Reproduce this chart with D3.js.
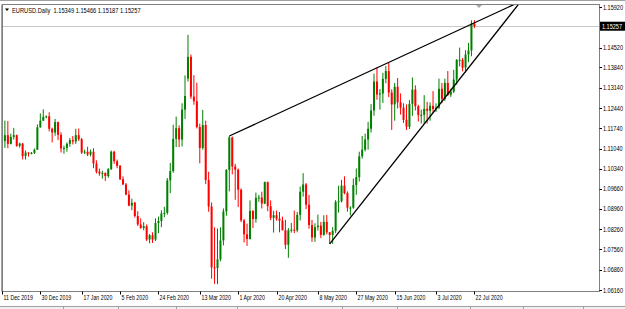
<!DOCTYPE html>
<html>
<head>
<meta charset="utf-8">
<script src="https://cdnjs.cloudflare.com/ajax/libs/d3/7.8.5/d3.min.js"></script>
<style>
  body { margin: 0; background: #fff; }
  svg { display: block; }
  text { font-family: "Liberation Sans", Arial, sans-serif; fill: #000; }
</style>
</head>
<body>
<svg></svg>
<script>
var width = 625, height = 309;

// chart frame (pixels)
var frame = { left: 2, top: 4.5, right: 599.5, bottom: 291.5 };

// daily bars, 11 Dec 2019 .. 22 Jul 2020 (index 0 .. 160)
var opens = [
  1.1077, 1.1130, 1.1150, 1.1120, 1.1144, 1.1150, 1.1113, 1.1121, 1.1078, 1.1090,
  1.1088, 1.1089, 1.1100, 1.1177, 1.1200, 1.1213, 1.1215, 1.1172, 1.1159, 1.1195,
  1.1151, 1.1104, 1.1106, 1.1120, 1.1133, 1.1128, 1.1150, 1.1136, 1.1090, 1.1093,
  1.1083, 1.1093, 1.1052, 1.1024, 1.1018, 1.1020, 1.1009, 1.1033, 1.1093, 1.1060,
  1.1044, 1.0998, 1.0980, 1.0945, 1.0907, 1.0917, 1.0871, 1.0842, 1.0830, 1.0836,
  1.0790, 1.0805, 1.0790, 1.0847, 1.0854, 1.0880, 1.0882, 1.0994, 1.1026, 1.1137,
  1.1174, 1.1135, 1.1238, 1.1345, 1.1420, 1.1283, 1.1267, 1.1178, 1.1106, 1.1185,
  1.0995, 1.0904, 1.0694, 1.0692, 1.0722, 1.0787, 1.0887, 1.1030, 1.1142, 1.1042,
  1.1031, 1.0962, 1.0856, 1.0808, 1.0792, 1.0889, 1.0861, 1.0934, 1.0935, 1.0914,
  1.0988, 1.0905, 1.0865, 1.0874, 1.0862, 1.0855, 1.0822, 1.0772, 1.0822, 1.0824,
  1.0822, 1.0875, 1.0955, 1.0980, 1.0910, 1.0840, 1.0797, 1.0833, 1.0838, 1.0806,
  1.0851, 1.0815, 1.0806, 1.0820, 1.0920, 1.0922, 1.0976, 1.0950, 1.0900, 1.0900,
  1.0978, 1.1005, 1.1077, 1.1100, 1.1135, 1.1172, 1.1235, 1.1335, 1.1290, 1.1294,
  1.1344, 1.1371, 1.1297, 1.1256, 1.1317, 1.1263, 1.1245, 1.1203, 1.1179, 1.1258,
  1.1307, 1.1250, 1.1219, 1.1220, 1.1241, 1.1234, 1.1251, 1.1240, 1.1245, 1.1310,
  1.1275, 1.1330, 1.1289, 1.1300, 1.1342, 1.1410, 1.1410, 1.1383, 1.1428, 1.1442,
  1.15349
];
var highs = [
  1.1145, 1.1200, 1.1199, 1.1155, 1.1175, 1.1152, 1.1124, 1.1123, 1.1097, 1.1091,
  1.1092, 1.1104, 1.1187, 1.1225, 1.1239, 1.1218, 1.1229, 1.1176, 1.1206, 1.1197,
  1.1160, 1.1114, 1.1125, 1.1140, 1.1147, 1.1172, 1.1173, 1.1140, 1.1100, 1.1110,
  1.1100, 1.1105, 1.1063, 1.1035, 1.1027, 1.1021, 1.1036, 1.1097, 1.1096, 1.1066,
  1.1047, 1.1008, 1.0985, 1.0960, 1.0931, 1.0920, 1.0888, 1.0863, 1.0850, 1.0842,
  1.0809, 1.0815, 1.0863, 1.0869, 1.0891, 1.0903, 1.1002, 1.1054, 1.1186, 1.1214,
  1.1184, 1.1260, 1.1356, 1.1496, 1.1428, 1.1357, 1.1331, 1.1190, 1.1237, 1.1200,
  1.1024, 1.0918, 1.0832, 1.0828, 1.0832, 1.0897, 1.1033, 1.1147, 1.1145, 1.1051,
  1.1035, 1.0966, 1.0861, 1.0845, 1.0925, 1.0891, 1.0952, 1.0944, 1.0955, 1.0990,
  1.0990, 1.0925, 1.0889, 1.0890, 1.0885, 1.0869, 1.0858, 1.0830, 1.0847, 1.0890,
  1.0885, 1.0973, 1.1019, 1.0985, 1.0944, 1.0858, 1.0846, 1.0876, 1.0851, 1.0874,
  1.0875, 1.0816, 1.0833, 1.0926, 1.0976, 1.0996, 1.1008, 1.0956, 1.0905, 1.1000,
  1.1035, 1.1093, 1.1147, 1.1155, 1.1196, 1.1257, 1.1362, 1.1383, 1.1309, 1.1365,
  1.1388, 1.1401, 1.1308, 1.1330, 1.1347, 1.1294, 1.1260, 1.1256, 1.1271, 1.1349,
  1.1322, 1.1255, 1.1238, 1.1288, 1.1265, 1.1263, 1.1302, 1.1260, 1.1345, 1.1330,
  1.1345, 1.1371, 1.1310, 1.1375, 1.1412, 1.1452, 1.1416, 1.1443, 1.1468, 1.1546,
  1.15466
];
var lows = [
  1.1068, 1.1106, 1.1105, 1.1118, 1.1135, 1.1110, 1.1107, 1.1066, 1.1066, 1.1076,
  1.1084, 1.1085, 1.1099, 1.1176, 1.1199, 1.1208, 1.1163, 1.1125, 1.1148, 1.1133,
  1.1090, 1.1086, 1.1093, 1.1110, 1.1118, 1.1120, 1.1130, 1.1085, 1.1085, 1.1078,
  1.1077, 1.1036, 1.1018, 1.1010, 1.1000, 1.0992, 1.1003, 1.1030, 1.1051, 1.1036,
  1.0995, 1.0978, 1.0943, 1.0905, 1.0891, 1.0866, 1.0837, 1.0827, 1.0822, 1.0785,
  1.0777, 1.0778, 1.0785, 1.0812, 1.0833, 1.0867, 1.0876, 1.0950, 1.1020, 1.1109,
  1.1109, 1.1111, 1.1206, 1.1335, 1.1275, 1.1255, 1.1173, 1.1053, 1.1100, 1.0981,
  1.0886, 1.0655, 1.0637, 1.0636, 1.0715, 1.0770, 1.0872, 1.0956, 1.1015, 1.0927,
  1.0902, 1.0850, 1.0780, 1.0768, 1.0790, 1.0830, 1.0848, 1.0920, 1.0897, 1.0912,
  1.0888, 1.0857, 1.0814, 1.0855, 1.0815, 1.0822, 1.0757, 1.0727, 1.0814, 1.0812,
  1.0815, 1.0856, 1.0938, 1.0895, 1.0827, 1.0782, 1.0782, 1.0821, 1.0795, 1.0803,
  1.0808, 1.0775, 1.0775, 1.0812, 1.0883, 1.0918, 1.0946, 1.0886, 1.0873, 1.0896,
  1.0944, 1.0990, 1.1069, 1.1094, 1.1100, 1.1159, 1.1217, 1.1272, 1.1238, 1.1261,
  1.1329, 1.1281, 1.1168, 1.1200, 1.1242, 1.1221, 1.1192, 1.1168, 1.1171, 1.1217,
  1.1235, 1.1197, 1.1190, 1.1190, 1.1190, 1.1200, 1.1225, 1.1230, 1.1240, 1.1260,
  1.1268, 1.1285, 1.1282, 1.1295, 1.1324, 1.1387, 1.1370, 1.1366, 1.1402, 1.1422,
  1.15187
];
var closes = [
  1.1130, 1.1150, 1.1120, 1.1144, 1.1150, 1.1113, 1.1121, 1.1078, 1.1090, 1.1088,
  1.1089, 1.1100, 1.1177, 1.1200, 1.1213, 1.1215, 1.1172, 1.1159, 1.1195, 1.1151,
  1.1104, 1.1106, 1.1120, 1.1133, 1.1128, 1.1150, 1.1136, 1.1090, 1.1093, 1.1083,
  1.1093, 1.1052, 1.1024, 1.1018, 1.1020, 1.1009, 1.1033, 1.1093, 1.1060, 1.1044,
  1.0998, 1.0980, 1.0945, 1.0907, 1.0917, 1.0871, 1.0842, 1.0830, 1.0836, 1.0790,
  1.0805, 1.0790, 1.0847, 1.0854, 1.0880, 1.0882, 1.0994, 1.1026, 1.1137, 1.1174,
  1.1135, 1.1238, 1.1285, 1.1420, 1.1283, 1.1267, 1.1178, 1.1106, 1.1185, 1.0995,
  1.0904, 1.0694, 1.0692, 1.0722, 1.0787, 1.0887, 1.1030, 1.1142, 1.1042, 1.1031,
  1.0962, 1.0856, 1.0808, 1.0792, 1.0889, 1.0861, 1.0934, 1.0935, 1.0914, 1.0988,
  1.0905, 1.0865, 1.0874, 1.0862, 1.0855, 1.0822, 1.0772, 1.0822, 1.0824, 1.0822,
  1.0875, 1.0955, 1.0980, 1.0910, 1.0840, 1.0797, 1.0833, 1.0838, 1.0806, 1.0851,
  1.0815, 1.0806, 1.0820, 1.0920, 1.0922, 1.0976, 1.0950, 1.0900, 1.0900, 1.0978,
  1.1005, 1.1077, 1.1100, 1.1135, 1.1172, 1.1235, 1.1335, 1.1290, 1.1294, 1.1344,
  1.1371, 1.1297, 1.1256, 1.1317, 1.1263, 1.1245, 1.1203, 1.1179, 1.1258, 1.1307,
  1.1250, 1.1219, 1.1220, 1.1241, 1.1234, 1.1251, 1.1240, 1.1245, 1.1310, 1.1275,
  1.1330, 1.1289, 1.1300, 1.1342, 1.1410, 1.1410, 1.1383, 1.1428, 1.1442, 1.1535,
  1.15257
];

// time labels: [bar index, text]
var timeLabels = [
  [0, "11 Dec 2019"], [13, "30 Dec 2019"], [27, "17 Jan 2020"], [40, "5 Feb 2020"],
  [53, "24 Feb 2020"], [67, "13 Mar 2020"], [80, "1 Apr 2020"], [93, "20 Apr 2020"],
  [107, "8 May 2020"], [120, "27 May 2020"], [133, "15 Jun 2020"], [147, "3 Jul 2020"],
  [160, "22 Jul 2020"]
];

var priceTicks = [1.15920, 1.14520, 1.13840, 1.13140, 1.12440, 1.11740, 1.11040,
  1.10340, 1.09660, 1.08960, 1.08260, 1.07560, 1.06860, 1.06160];

// trend lines drawn on the chart: two anchor points [bar index, price]
var upperTrend = [[77, 1.1147], [131, 1.1401]];
var lowerTrend = [[111, 1.0775], [151, 1.1292]];

var title = "EURUSD.Daily  1.15349 1.15466 1.15187 1.15257";

var upColor = "#008000", downColor = "#ff0000";

var x = d3.scaleLinear().domain([0, 160]).range([1.95, 474.4]);
var y = d3.scaleLinear().domain([1.0616, 1.1592]).range([290, 7]);

var svg = d3.select("svg")
  .attr("width", width)
  .attr("height", height);

svg.append("rect").attr("width", width).attr("height", height).attr("fill", "#fff");

// narrow terminal-style text: squeezed horizontally with a transform
function label(g, px, py, str, k) {
  return g.append("text")
    .attr("transform", "translate(" + px + "," + py + ") scale(" + k + ",1)")
    .attr("dy", "0.35em")
    .style("font-size", "7.5px")
    .text(str);
}

svg.append("defs").append("clipPath").attr("id", "plotclip")
  .append("rect")
  .attr("x", frame.left + 0.5).attr("y", frame.top + 0.5)
  .attr("width", frame.right - frame.left - 1)
  .attr("height", frame.bottom - frame.top - 1);

// window edges
svg.append("line").attr("x1", 0).attr("x2", width).attr("y1", 0.5).attr("y2", 0.5)
  .attr("stroke", "#a0a0a0");
svg.append("rect").attr("x", 0).attr("y", 306).attr("width", width).attr("height", 3)
  .attr("fill", "#f0f0f0");
svg.append("line").attr("x1", 0).attr("x2", width).attr("y1", 306.5).attr("y2", 306.5)
  .attr("stroke", "#a0a0a0");
[63, 118, 176, 237, 342, 397, 470, 523, 583].forEach(function(d) {
  svg.append("line").attr("x1", d + 0.5).attr("x2", d + 0.5).attr("y1", 306.5).attr("y2", 309)
    .attr("stroke", "#a0a0a0");
});

// bid line
var last = closes[closes.length - 1];
svg.append("line")
  .attr("x1", frame.left).attr("x2", frame.right)
  .attr("y1", Math.round(y(last)) + 0.5).attr("y2", Math.round(y(last)) + 0.5)
  .attr("stroke", "#c8c8c8");

// candles
var bars = d3.range(opens.length).map(function(i) {
  return { i: i, o: opens[i], h: highs[i], l: lows[i], c: closes[i] };
});

var plot = svg.append("g").attr("clip-path", "url(#plotclip)");

var candle = plot.selectAll(".candle")
  .data(bars)
  .enter().append("g")
  .attr("class", "candle");

candle.append("line")
  .attr("x1", function(d) { return x(d.i); })
  .attr("x2", function(d) { return x(d.i); })
  .attr("y1", function(d) { return y(d.h); })
  .attr("y2", function(d) { return y(d.l); })
  .attr("stroke", function(d) { return d.c >= d.o ? upColor : downColor; })
  .attr("stroke-width", 1);

candle.append("rect")
  .attr("x", function(d) { return x(d.i) - 1; })
  .attr("width", 2)
  .attr("y", function(d) { return y(Math.max(d.o, d.c)); })
  .attr("height", function(d) { return Math.max(1, Math.abs(y(d.o) - y(d.c))); })
  .attr("fill", function(d) { return d.c >= d.o ? upColor : downColor; });

// trend lines (rays to the right, clipped by the frame)
function ray(pts) {
  var p0 = pts[0], p1 = pts[1];
  var slope = (p1[1] - p0[1]) / (p1[0] - p0[0]);
  var xEnd = 200;
  return [[x(p0[0]), y(p0[1])], [x(xEnd), y(p0[1] + slope * (xEnd - p0[0]))]];
}
[upperTrend, lowerTrend].forEach(function(t) {
  plot.append("path")
    .attr("d", d3.line()(ray(t)))
    .attr("stroke", "#000")
    .attr("stroke-width", 1.3)
    .attr("fill", "none");
});

// chart shift marker
svg.append("path")
  .attr("d", "M476,5L482,5L479,8Z")
  .attr("fill", "#a8a8a8");

// frame
svg.append("rect")
  .attr("x", frame.left + 0.5).attr("y", frame.top)
  .attr("width", frame.right - frame.left - 0.5)
  .attr("height", frame.bottom - frame.top)
  .attr("fill", "none")
  .attr("stroke", "#808080");
svg.append("line").attr("x1", 1.5).attr("x2", 1.5).attr("y1", frame.top).attr("y2", frame.bottom)
  .attr("stroke", "#a0a0a0");

// price axis
var yAxis = svg.append("g");
priceTicks.forEach(function(v) {
  yAxis.append("line")
    .attr("x1", frame.right).attr("x2", frame.right + 2.5)
    .attr("y1", Math.round(y(v)) + 0.5).attr("y2", Math.round(y(v)) + 0.5)
    .attr("stroke", "#000");
  label(yAxis, 603, y(v), v.toFixed(5), 0.74);
});

// current price tag
var tag = svg.append("g");
tag.append("rect")
  .attr("x", 600).attr("y", y(last) - 4.5)
  .attr("width", 25).attr("height", 9)
  .attr("fill", "#000");
label(tag, 602, y(last), last.toFixed(5), 0.74).style("fill", "#fff");

// time axis
var xAxis = svg.append("g");
timeLabels.forEach(function(t) {
  var px = Math.round(x(t[0])) + 0.5;
  xAxis.append("line")
    .attr("x1", px).attr("x2", px)
    .attr("y1", frame.bottom).attr("y2", frame.bottom + 3)
    .attr("stroke", "#000");
  label(xAxis, px + 1, 297, t[1], 0.7);
});

// title
svg.append("path")
  .attr("d", "M5,8.5L9,8.5L7,11Z")
  .attr("fill", "#000");
label(svg, 12, 10, title, 0.76).attr("xml:space", "preserve");
</script>
</body>
</html>
